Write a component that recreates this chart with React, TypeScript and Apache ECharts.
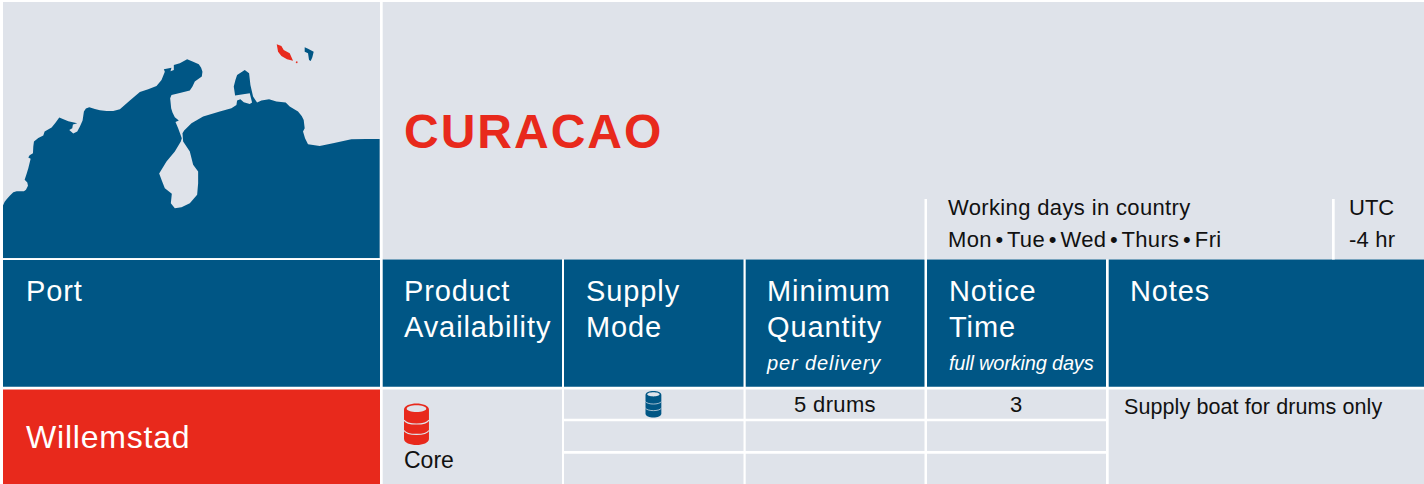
import React, { useEffect, useRef } from "react";
import * as echarts from "echarts";

const BG = "#dfe3ea";
const BLUE = "#005685";
const RED = "#e8291c";
const FONT = "'Liberation Sans', Arial, sans-serif";

const country = "CURACAO";
const workingTitle = "Working days in country";
const workingDays = "Mon • Tue • Wed • Thurs • Fri";
const utc = ["UTC", "-4 hr"];
const portName = "Willemstad";
const product = "Core";
const minQuantity = "5 drums";
const noticeDays = "3";
const note = "Supply boat for drums only";

const mainland = [[9,685],[9,527],[14,516],[20,508],[30,497],[40,487],[50,484],[60,484],[72,484],[78,480],[84,468],[82,458],[74,450],[80,432],[85,415],[92,387],[85,383],[89,376],[99,370],[100,350],[102,335],[115,324],[130,317],[134,305],[155,293],[166,279],[178,263],[205,274],[232,280],[219,284],[217,295],[208,300],[220,311],[232,305],[240,290],[248,272],[252,245],[258,236],[268,232],[285,237],[300,241],[320,243],[340,243],[360,238],[390,212],[420,186],[445,178],[470,168],[485,150],[495,125],[492,118],[515,113],[512,124],[522,120],[522,105],[540,100],[562,88],[580,95],[597,103],[604,113],[608,125],[606,140],[585,155],[578,170],[570,182],[540,189],[515,195],[511,205],[514,235],[518,248],[525,262],[537,272],[527,276],[535,295],[546,325],[543,335],[525,365],[500,395],[478,431],[487,455],[495,475],[516,492],[513,520],[525,535],[545,532],[570,520],[592,495],[595,460],[595,425],[580,405],[570,365],[550,335],[548,310],[553,302],[575,280],[610,260],[660,245],[695,235],[710,225],[712,212],[722,208],[732,217],[750,222],[757,218],[750,190],[706,197],[702,170],[707,150],[712,135],[735,120],[748,130],[752,165],[760,200],[772,218],[785,212],[808,208],[830,215],[858,218],[870,230],[895,245],[906,258],[912,270],[915,295],[910,305],[916,325],[925,343],[960,348],[1000,340],[1055,328],[1100,327],[1140,327],[1140,685]];
const curacao = [[831,43],[845,48],[852,60],[870,70],[880,92],[862,88],[845,78],[835,65]];
const bonaire = [[915,52],[925,56],[942,65],[938,82],[933,93],[928,90],[925,70],[915,65]];

const spacing: Record<string, number> = {
  [country]: 2, [workingTitle]: 0.36, [workingDays]: 0.36, [utc[1]]: 0.2,
  Port: 0.9, Product: 0.9, Availability: 0.9, Supply: 0.9, Mode: 0.9, Minimum: 0.9, Quantity: 0.9,
  Notice: 0.9, Time: 0.9, Notes: 0.9, "per delivery": 0.9, "full working days": -0.2,
  [portName]: 0.8, [minQuantity]: 0.35, [note]: 0.1,
};
const wordSpacing: Record<string, number> = { [workingDays]: -2.8 };

echarts.graphic.registerShape("barrelBody", echarts.graphic.extendPath(
  "M0 6 C0 -2 24 -2 24 6 L24 34 C24 42 0 42 0 34 Z", {}
));
echarts.graphic.registerShape("barrelBands", echarts.graphic.extendPath(
  "M0 16 C3 21 21 21 24 16 M0 26 C3 31 21 31 24 26", {}
));

function txt(text: string, x: number, y: number, fontSize: number, fill: string, extra: any = {}) {
  const { align, ...font } = extra;
  return {
    type: "text", x, y, silent: true,
    style: { text, fill, fontSize, fontFamily: FONT, verticalAlign: "middle", align: align || "left", ...font },
  };
}
function rect(x: number, y: number, width: number, height: number, fill: string) {
  return { type: "rect", shape: { x, y, width, height }, style: { fill }, silent: true };
}
function barrel(x: number, y: number, s: number, color: string) {
  return {
    type: "group", x, y, scaleX: s, scaleY: s, silent: true,
    children: [
      { type: "barrelBody", style: { fill: color } },
      { type: "barrelBands", style: { fill: "none", stroke: BG, lineWidth: 1.1 } },
      { type: "ellipse", shape: { cx: 12, cy: 5, rx: 9.4, ry: 3.2 }, style: { fill: BG } },
    ],
  };
}
const header = (t: string, x: number, y: number) => txt(t, x, y, 29, "#fff");

const colEdges = [[382.7, 562], [564, 743.5], [745.7, 924.5], [927, 1106], [1108.7, 1424]];

export default function App() {
  const ref = useRef<HTMLDivElement>(null);
  useEffect(() => {
    document.body.style.margin = "0";
    const chart = echarts.init(ref.current!, undefined, { renderer: "svg" });
    chart.setOption({
      animation: false,
      backgroundColor: "#ffffff",
      graphic: [
        rect(3, 2, 377, 256.3, BG),
        rect(382.7, 2, 1041.3, 257.5, BG),
        rect(3, 260, 377, 126.7, BLUE),
        ...colEdges.map(([a, b]) => rect(a, 259.5, b - a, 127.2, BLUE)),
        rect(3, 389.5, 377, 94.5, RED),
        rect(382.7, 389.5, 179.3, 94.5, BG),
        rect(1108.7, 389.5, 315.3, 94.5, BG),
        ...colEdges.slice(1, 4).flatMap(([a, b]) => [
          rect(a, 389.5, b - a, 29.2, BG),
          rect(a, 421.3, b - a, 29.7, BG),
          rect(a, 453.7, b - a, 30.3, BG),
        ]),
        rect(924.5, 199, 2.5, 60.5, "#ffffff"),
        rect(1332, 199, 2.7, 60.5, "#ffffff"),
        {
          type: "group", x: 0, y: 30, scaleX: 1 / 3, scaleY: 1 / 3, silent: true,
          children: [
            { type: "polygon", shape: { points: mainland }, style: { fill: BLUE } },
            { type: "polygon", shape: { points: curacao }, style: { fill: RED } },
            { type: "circle", shape: { cx: 891, cy: 97, r: 2.5 }, style: { fill: RED } },
            { type: "polygon", shape: { points: bonaire }, style: { fill: BLUE } },
          ],
        },
        txt(country, 404, 131, 48, RED, { fontWeight: "bold" }),
        txt(workingTitle, 948, 207.5, 22, "#111"),
        txt(workingDays, 948, 239.5, 22, "#111"),
        txt(utc[0], 1349, 207.5, 22, "#111"),
        txt(utc[1], 1349, 239.5, 22, "#111"),
        header("Port", 26, 291),
        header("Product", 404, 291),
        header("Availability", 404, 327),
        header("Supply", 586, 291),
        header("Mode", 586, 327),
        header("Minimum", 767, 291),
        header("Quantity", 767, 327),
        txt("per delivery", 767, 363, 20, "#fff", { fontStyle: "italic" }),
        header("Notice", 949, 291),
        header("Time", 949, 327),
        txt("full working days", 949, 363, 20, "#fff", { fontStyle: "italic" }),
        header("Notes", 1130, 291),
        txt(portName, 26, 437, 32, "#fff"),
        barrel(404, 403.5, 1.04, RED),
        txt(product, 404, 460, 23, "#111"),
        barrel(645.5, 391, 0.66, BLUE),
        txt(minQuantity, 835, 404, 22, "#111", { align: "center" }),
        txt(noticeDays, 1016, 404, 22, "#111", { align: "center" }),
        txt(note, 1124, 406.5, 21.5, "#111"),
      ],
    });
    ref.current!.querySelectorAll("text").forEach((el) => {
      const t = el.textContent || "";
      if (spacing[t] !== undefined) el.style.letterSpacing = spacing[t] + "px";
      if (wordSpacing[t] !== undefined) el.style.wordSpacing = wordSpacing[t] + "px";
    });
    return () => chart.dispose();
  }, []);
  return <div ref={ref} style={{ width: 1424, height: 484 }} />;
}
